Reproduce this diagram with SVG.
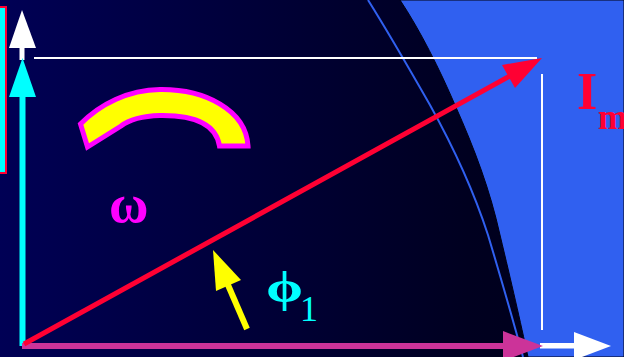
<svg xmlns="http://www.w3.org/2000/svg" width="624" height="357" viewBox="0 0 624 357">
<defs>
<linearGradient id="bg" x1="0" y1="0" x2="1" y2="0">
<stop offset="0" stop-color="#000055"/>
<stop offset="0.75" stop-color="#000020"/>
<stop offset="1" stop-color="#000018"/>
</linearGradient>
<style>
.lbl{font-family:"Liberation Serif","Times New Roman",serif}
</style>
</defs>
<rect width="624" height="357" fill="url(#bg)"/>
<path id="blue-region" d="M400,0 L624,0 L624,357 L528,357 C520,320 512,285 500,235 C490,190 475,150 455,105 C440,70 420,30 400,0 Z" fill="#3060f0" stroke="#000010" stroke-width="1"/>
<path d="M368,0 C390,35 410,70 430,105 C455,150 475,195 488,235 C503,285 513,320 523,357" fill="none" stroke="#3060f0" stroke-width="2"/>
<g id="connectors">
<line x1="34" y1="58" x2="537" y2="58" stroke="#ffffff" stroke-width="2"/>
<line x1="542" y1="74" x2="542" y2="330" stroke="#ffffff" stroke-width="2"/>
</g>
<g id="left-box"><rect x="-4" y="7" width="10" height="166" fill="#00ffff" stroke="#ff0033" stroke-width="2"/></g>
<g id="white-up-arrow">
<rect x="19.5" y="46" width="5" height="14" fill="#ffffff"/>
<polygon points="22,10 36,48 9,48" fill="#ffffff"/>
</g>
<g id="cyan-up-arrow">
<rect x="19.5" y="95" width="6" height="251" fill="#00ffff"/>
<polygon points="22.5,58 36,97 9,97" fill="#00ffff"/>
</g>
<g id="white-right-arrow">
<rect x="540" y="343" width="36" height="5.5" fill="#ffffff"/>
<polygon points="611,346 574,332 574,360" fill="#ffffff"/>
</g>
<g id="magenta-right-arrow">
<rect x="22" y="343" width="484" height="6" fill="#cc3399"/>
<polygon points="543,346 503,331 503,361" fill="#cc3399"/>
</g>
<g id="red-arrow">
<line x1="24" y1="344" x2="510" y2="76" stroke="#ff0033" stroke-width="5"/>
<polygon points="542,58 502,65 515,88" fill="#ff0033"/>
</g>
<g id="rotation-arc">
<path d="M80.5,124 C100,104 128,90 160,89.5 C205,89 246,110 248,146 L219.5,146 C216,124 194,115 160,115.5 C143,116 130,119 121,126 L87.5,147 Z" fill="#ffff00" stroke="#ff00ff" stroke-width="5" stroke-linejoin="miter"/>
</g>
<g id="yellow-arrow">
<line x1="247" y1="329" x2="225" y2="278" stroke="#ffff00" stroke-width="6"/>
<polygon points="213,250 241,280 216,291" fill="#ffff00"/>
</g>
<g id="omega"><text class="lbl" x="109" y="222" font-size="54" font-weight="bold" fill="#ff00ff">ω</text></g>
<g id="phi1"><text class="lbl" transform="translate(266,302) scale(1.35,1)" x="0" y="0" font-size="44" font-weight="bold" fill="#00ffff">ϕ</text><text class="lbl" x="300" y="321" font-size="36" fill="#00ffff">1</text></g>
<g id="Im"><text class="lbl" x="577" y="109" font-size="52" font-weight="bold" fill="#ff0033">I</text><text class="lbl" x="598" y="129" font-size="35" font-weight="bold" fill="#ff0033">m</text></g>
</svg>
